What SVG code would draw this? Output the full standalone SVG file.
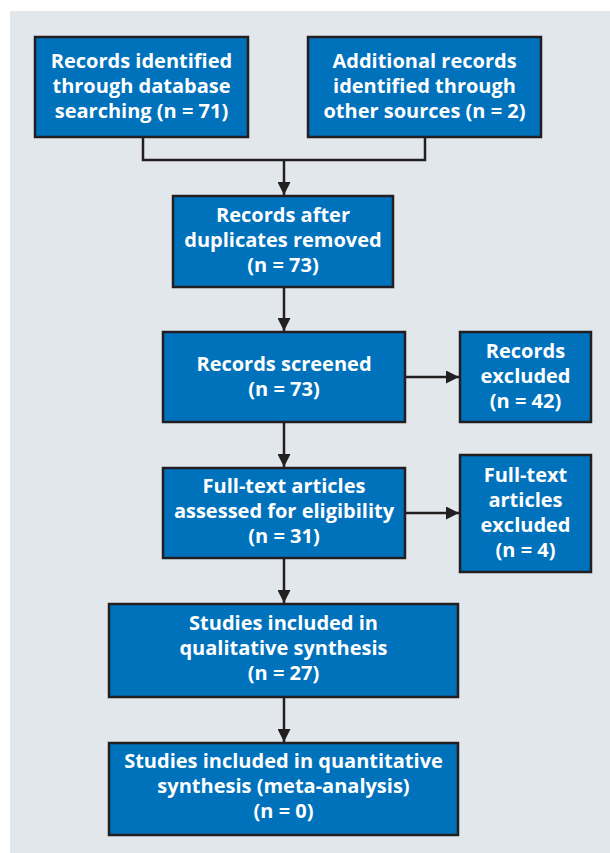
<svg xmlns="http://www.w3.org/2000/svg" width="610" height="853" viewBox="0 0 610 853">
<style>
.box{fill:#0072BC;stroke:#231F20;stroke-width:2.5}
.t{font-family:"Open Sans","Liberation Sans",sans-serif;font-weight:700;font-size:20px;fill:#fff;text-anchor:middle}
.c{fill:none;stroke:#231F20;stroke-width:2.5}
</style>
<defs>
<marker id="ah" viewBox="0 0 10 10" refX="10" refY="5" markerWidth="6.4" markerHeight="5.2" markerUnits="strokeWidth" orient="auto">
<path d="M0,0 L10,5 L0,10 Z" fill="#231F20"/>
</marker>
</defs>
<rect x="0" y="0" width="610" height="853" fill="#fff"/>
<rect x="10" y="11" width="600" height="842" fill="#E2E7EC"/>
<g id="connectors">
<path class="c" d="M143,137 V160 H425 V137"/>
<path class="c" d="M284,160 V195" marker-end="url(#ah)"/>
<path class="c" d="M284,287 V331" marker-end="url(#ah)"/>
<path class="c" d="M284,422 V467" marker-end="url(#ah)"/>
<path class="c" d="M284,558 V603" marker-end="url(#ah)"/>
<path class="c" d="M284,697 V742" marker-end="url(#ah)"/>
<path class="c" d="M405,377 H459" marker-end="url(#ah)"/>
<path class="c" d="M405,513 H459" marker-end="url(#ah)"/>
</g>
<g id="n1">
<rect class="box" x="35" y="37" width="213" height="100"/>
<text class="t" x="141.5" y="68">Records identified</text>
<text class="t" x="141.5" y="93">through database</text>
<text class="t" x="141.5" y="118">searching (n = 71)</text>
</g>
<g id="n2">
<rect class="box" x="308" y="37" width="233" height="100"/>
<text class="t" x="424.5" y="68">Additional records</text>
<text class="t" x="424.5" y="93">identified through</text>
<text class="t" x="424.5" y="118">other sources (n = 2)</text>
</g>
<g id="n3">
<rect class="box" x="173" y="196" width="220" height="91"/>
<text class="t" x="283" y="222">Records after</text>
<text class="t" x="283" y="247">duplicates removed</text>
<text class="t" x="283" y="272">(n = 73)</text>
</g>
<g id="n4">
<rect class="box" x="163" y="332" width="242" height="90"/>
<text class="t" x="284" y="371">Records screened</text>
<text class="t" x="284" y="396">(n = 73)</text>
</g>
<g id="n5">
<rect class="box" x="460" y="332" width="131" height="90"/>
<text class="t" x="525.5" y="358">Records</text>
<text class="t" x="525.5" y="383">excluded</text>
<text class="t" x="525.5" y="408">(n = 42)</text>
</g>
<g id="n6">
<rect class="box" x="163" y="468" width="242" height="90"/>
<text class="t" x="284" y="493">Full-text articles</text>
<text class="t" x="284" y="518">assessed for eligibility</text>
<text class="t" x="284" y="543">(n = 31)</text>
</g>
<g id="n7">
<rect class="box" x="460" y="455" width="131" height="117"/>
<text class="t" x="525.5" y="482">Full-text</text>
<text class="t" x="525.5" y="507">articles</text>
<text class="t" x="525.5" y="532">excluded</text>
<text class="t" x="525.5" y="557">(n = 4)</text>
</g>
<g id="n8">
<rect class="box" x="109" y="604" width="349" height="93"/>
<text class="t" x="283.5" y="630">Studies included in</text>
<text class="t" x="283.5" y="655">qualitative synthesis</text>
<text class="t" x="283.5" y="680">(n = 27)</text>
</g>
<g id="n9">
<rect class="box" x="109" y="743" width="349" height="92"/>
<text class="t" x="283.5" y="768">Studies included in quantitative</text>
<text class="t" x="283.5" y="793">synthesis (meta-analysis)</text>
<text class="t" x="283.5" y="818">(n = 0)</text>
</g>
</svg>
